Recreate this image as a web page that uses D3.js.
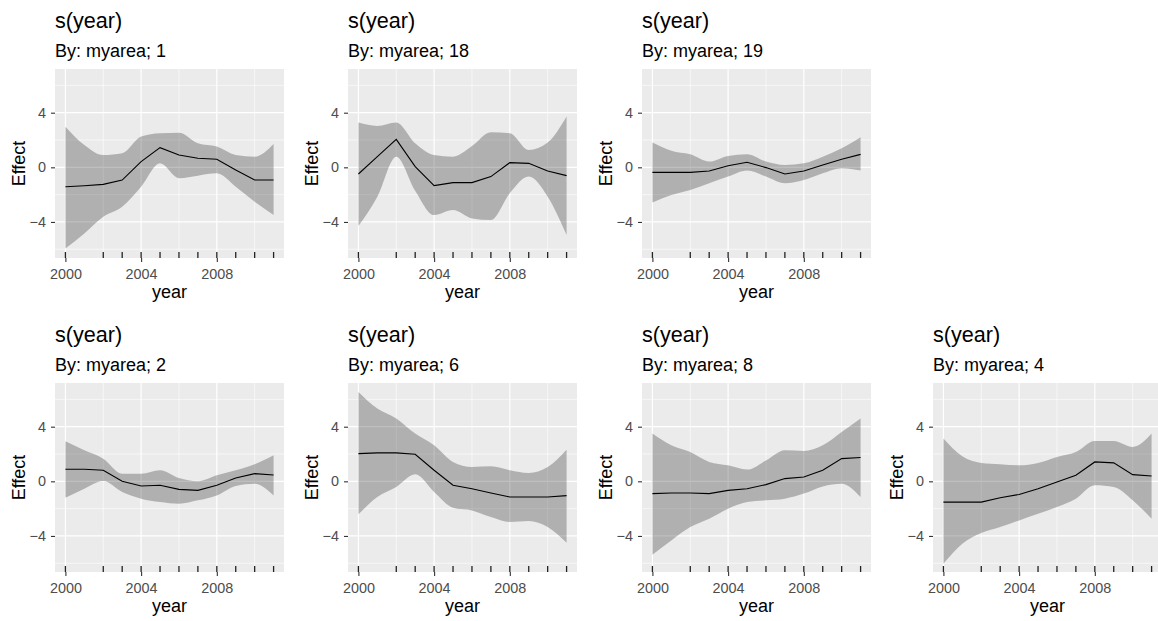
<!DOCTYPE html>
<html>
<head>
<meta charset="utf-8">
<script src="https://cdn.jsdelivr.net/npm/d3@7"></script>
<style>
  body { margin: 0; background: #fff; }
  svg text { font-family: "Liberation Sans", Arial, sans-serif; }
</style>
</head>
<body>
<div id="chart"></div>
<script>
// years the smooth was evaluated at, and years that carry a rug mark
const years = [2000, 2001, 2002, 2003, 2004, 2005, 2006, 2007, 2008, 2009, 2010, 2011];
const rugYears = [2000, 2002, 2003, 2004, 2005, 2006, 2007, 2008, 2009, 2010, 2011];
const xTicks = [2000, 2004, 2008];
const yTicks = [-4, 0, 4];
const areaLabels = ['1', '18', '19', '2', '6', '8', '4'];

// estimate / upper / lower for each myarea level
const fit_1 = [-1.42, -1.35, -1.25, -0.93, 0.42, 1.44, 0.9, 0.66, 0.59, -0.2, -0.93, -0.93];
const hi_1  = [2.98, 1.64, 0.9, 1.03, 2.25, 2.5, 2.54, 1.76, 1.52, 0.9, 0.78, 1.71];
const lo_1  = [-5.94, -4.84, -3.62, -2.88, -1.42, 0.29, -0.8, -0.61, -0.44, -1.42, -2.52, -3.5];

const fit_18 = [-0.49, 0.78, 2.05, 0.05, -1.34, -1.12, -1.12, -0.68, 0.34, 0.29, -0.27, -0.61];
const hi_18  = [3.28, 3.03, 3.28, 1.76, 0.9, 0.78, 1.56, 2.57, 2.49, 1.27, 1.81, 3.72];
const lo_18  = [-4.3, -2.15, 0.78, -1.71, -3.5, -3.13, -3.74, -3.86, -1.9, -0.68, -2.15, -4.96];

const fit_19 = [-0.37, -0.37, -0.37, -0.27, 0.12, 0.37, -0.02, -0.49, -0.27, 0.17, 0.59, 0.95];
const hi_19  = [1.81, 1.22, 0.95, 0.42, 0.83, 0.95, 0.42, 0.17, 0.29, 0.78, 1.39, 2.2];
const lo_19  = [-2.57, -2.03, -1.66, -1.17, -0.68, -0.24, -0.68, -1.17, -0.93, -0.44, -0.07, -0.24];

const fit_2 = [0.88, 0.88, 0.81, 0, -0.34, -0.29, -0.59, -0.66, -0.29, 0.24, 0.56, 0.46];
const hi_2  = [2.93, 2.27, 1.66, 0.56, 0.56, 0.81, 0.24, 0, 0.44, 0.81, 1.25, 1.91];
const lo_2  = [-1.2, -0.54, 0.02, -0.78, -1.27, -1.52, -1.64, -1.39, -1.03, -0.34, -0.17, -1.03];

const fit_6 = [2.03, 2.08, 2.08, 1.98, 0.81, -0.29, -0.54, -0.86, -1.15, -1.15, -1.15, -1.05];
const hi_6  = [6.55, 5.33, 4.6, 3.5, 2.64, 1.42, 1.05, 1.1, 0.81, 0.61, 1.05, 2.32];
const lo_6  = [-2.42, -1.15, -0.42, 0.51, -0.78, -1.93, -2.13, -2.62, -2.98, -2.91, -3.35, -4.5];

const fit_8 = [-0.9, -0.86, -0.86, -0.9, -0.66, -0.54, -0.24, 0.2, 0.32, 0.81, 1.66, 1.74];
const hi_8  = [3.5, 2.64, 2.15, 1.42, 1.17, 0.86, 1.52, 2.27, 2.22, 2.64, 3.62, 4.6];
const lo_8  = [-5.38, -4.33, -3.35, -2.74, -2.0, -1.52, -1.39, -1.27, -0.9, -0.37, -0.17, -1.15];

const fit_4 = [-1.52, -1.52, -1.52, -1.2, -0.96, -0.54, -0.05, 0.44, 1.42, 1.35, 0.49, 0.39];
const hi_4  = [3.14, 1.84, 1.35, 1.25, 1.17, 1.35, 1.79, 2.15, 2.96, 2.96, 2.52, 3.5];
const lo_4  = [-6.04, -4.57, -3.79, -3.35, -2.86, -2.37, -1.88, -1.27, -0.29, -0.42, -1.39, -2.74];

const fits = [fit_1, fit_18, fit_19, fit_2, fit_6, fit_8, fit_4];
const his = [hi_1, hi_18, hi_19, hi_2, hi_6, hi_8, hi_4];
const los = [lo_1, lo_18, lo_19, lo_2, lo_6, lo_8, lo_4];

const width = 1158, height = 621;
const pw = 229, ph = 189;
const lefts = [55, 348, 642, 55, 348, 642, 933];
const tops = [69, 69, 69, 383, 383, 383, 383];

const svg = d3.select('#chart').append('svg')
  .attr('width', width)
  .attr('height', height);

// shared scales (domain includes ggplot's 5% padding)
const x = d3.scaleLinear().domain([1999.45, 2011.55]).range([0, pw]);
const y = d3.scaleLinear().domain([-6.64, 7.2]).range([ph, 0]);

areaLabels.forEach(function(lab, k) {
  const g = svg.append('g').attr('transform', `translate(${lefts[k]},${tops[k]})`);
  const rows = years.map((yr, i) => ({yr: yr, fit: fits[k][i], hi: his[k][i], lo: los[k][i]}));

  g.append('rect').attr('width', pw).attr('height', ph).attr('fill', '#EBEBEB');

  // minor grid
  [2002, 2006, 2010].forEach(v => g.append('line')
    .attr('x1', x(v)).attr('x2', x(v)).attr('y1', 0).attr('y2', ph)
    .attr('stroke', '#fff').attr('stroke-width', 0.6));
  [-6, -2, 2, 6].forEach(v => g.append('line')
    .attr('y1', y(v)).attr('y2', y(v)).attr('x1', 0).attr('x2', pw)
    .attr('stroke', '#fff').attr('stroke-width', 0.6));
  // major grid
  xTicks.forEach(v => g.append('line')
    .attr('x1', x(v)).attr('x2', x(v)).attr('y1', 0).attr('y2', ph)
    .attr('stroke', '#fff').attr('stroke-width', 1.2));
  yTicks.forEach(v => g.append('line')
    .attr('y1', y(v)).attr('y2', y(v)).attr('x1', 0).attr('x2', pw)
    .attr('stroke', '#fff').attr('stroke-width', 1.2));

  // confidence band
  const band = d3.area()
    .x(d => x(d.yr))
    .y0(d => y(d.lo))
    .y1(d => y(d.hi))
    .curve(d3.curveMonotoneX);
  g.append('path').datum(rows)
    .attr('d', band)
    .attr('fill', '#000').attr('fill-opacity', 0.25);

  const line = d3.line().x(d => x(d.yr)).y(d => y(d.fit));
  g.append('path').datum(rows)
    .attr('d', line)
    .attr('fill', 'none').attr('stroke', '#000').attr('stroke-width', 1.1);

  // rug
  g.selectAll('.rug').data(rugYears).enter().append('line')
    .attr('x1', d => x(d)).attr('x2', d => x(d))
    .attr('y1', ph - 6).attr('y2', ph)
    .attr('stroke', '#222').attr('stroke-width', 1.3);

  // axes
  const xa = g.append('g').attr('transform', `translate(0,${ph})`)
    .call(d3.axisBottom(x).tickValues(xTicks).tickFormat(d3.format('d')).tickSize(4).tickPadding(6.4));
  const ya = g.append('g')
    .call(d3.axisLeft(y).tickValues(yTicks).tickSize(4).tickPadding(5));
  [xa, ya].forEach(a => {
    a.select('.domain').remove();
    a.selectAll('line').attr('stroke', '#333').attr('stroke-width', 1.1);
    a.selectAll('text').attr('fill', '#4D4D4D').style('font-size', '14.4px');
  });

  g.append('text').attr('x', pw / 2).attr('y', ph + 39.5)
    .attr('text-anchor', 'middle').style('font-size', '18px').attr('fill', '#000')
    .text('year');
  g.append('text')
    .attr('transform', `translate(-30,${ph / 2}) rotate(-90)`)
    .attr('text-anchor', 'middle').style('font-size', '18px').attr('fill', '#000')
    .text('Effect');

  g.append('text').attr('x', 0).attr('y', -41)
    .style('font-size', '21.6px').attr('fill', '#000')
    .text('s(year)');
  g.append('text').attr('x', 0).attr('y', -12.3)
    .style('font-size', '18px').attr('fill', '#000')
    .text('By: myarea; ' + lab);
});
</script>
</body>
</html>
